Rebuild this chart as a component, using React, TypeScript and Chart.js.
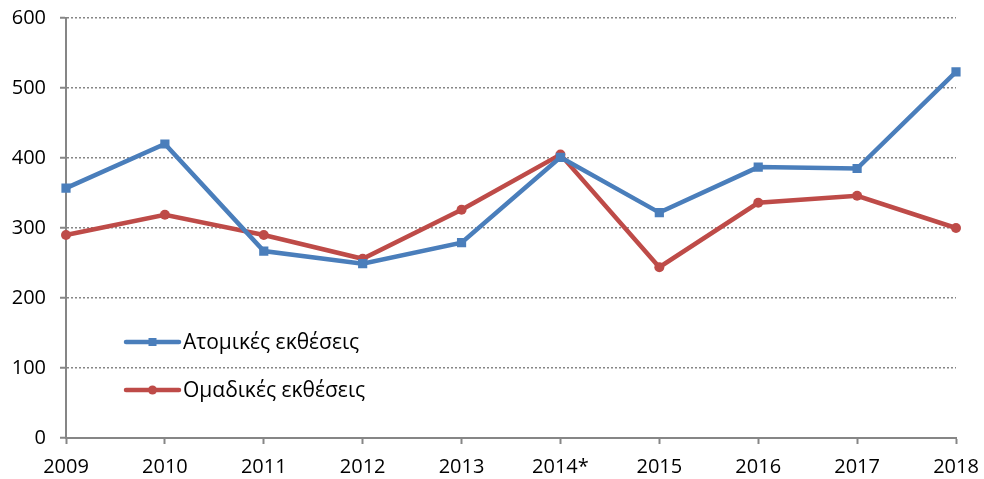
import React, { useEffect, useRef } from "react";
import { Chart, registerables } from "chart.js";

Chart.register(...registerables);

const years = ["2009", "2010", "2011", "2012", "2013", "2014*", "2015", "2016", "2017", "2018"];
const individualExhibitions = [357, 420, 267, 249, 279, 401, 322, 387, 385, 523];
const groupExhibitions = [290, 319, 290, 256, 326, 405, 244, 336, 346, 300];
const seriesLabels = ["Ατομικές εκθέσεις", "Ομαδικές εκθέσεις"];
const yTicks = [0, 100, 200, 300, 400, 500, 600];

const BLUE = "#4A7EBB";
const RED = "#BE4B48";
const AXIS = "#868686";
const FONT = "'Open Sans', sans-serif";

const legendPlugin = {
  id: "insideLegend",
  afterDraw(chart: any) {
    const ctx = chart.ctx;
    const rows = [342, 390];
    ctx.save();
    chart.data.datasets.forEach((ds: any, i: number) => {
      const y = rows[i];
      const x0 = 126;
      const x1 = 179;
      ctx.strokeStyle = ds.borderColor;
      ctx.lineWidth = 4.5;
      ctx.lineCap = "round";
      ctx.beginPath();
      ctx.moveTo(x0, y);
      ctx.lineTo(x1, y);
      ctx.stroke();
      const cx = (x0 + x1) / 2;
      ctx.fillStyle = ds.backgroundColor;
      if (ds.pointStyle === "rect") {
        ctx.fillRect(cx - 4, y - 4, 8, 8);
      } else {
        ctx.beginPath();
        ctx.arc(cx, y, 4.5, 0, Math.PI * 2);
        ctx.fill();
      }
      ctx.fillStyle = "#000";
      ctx.font = `21px ${FONT}`;
      ctx.textBaseline = "middle";
      ctx.textAlign = "left";
      ctx.fillText(ds.label, 183, y + 1);
    });
    ctx.restore();
  },
};

export default function App() {
  const ref = useRef<HTMLCanvasElement>(null);
  useEffect(() => {
    document.body.style.margin = "0";
    const chart = new Chart(ref.current!, {
      type: "line",
      data: {
        labels: years,
        datasets: [
          {
            label: seriesLabels[0],
            data: individualExhibitions,
            borderColor: BLUE,
            backgroundColor: BLUE,
            borderWidth: 4.5,
            pointStyle: "rect",
            pointRadius: 6.5,
            pointBorderWidth: 0,
            tension: 0,
          },
          {
            label: seriesLabels[1],
            data: groupExhibitions,
            borderColor: RED,
            backgroundColor: RED,
            borderWidth: 4.5,
            pointStyle: "circle",
            pointRadius: 5,
            pointBorderWidth: 0,
            tension: 0,
          },
        ],
      },
      options: {
        animation: false,
        responsive: false,
        layout: { padding: { top: 18, right: 28, left: 0, bottom: 0 } },
        plugins: { legend: { display: false }, tooltip: { enabled: false } },
        scales: {
          x: {
            offset: false,
            grid: {
              drawOnChartArea: false,
              drawTicks: true,
              tickLength: 6,
              tickColor: AXIS,
              tickWidth: 2,
            },
            border: { color: AXIS, width: 2 },
            ticks: {
              color: "#000",
              font: { family: FONT, size: 20 },
              padding: 11,
              maxRotation: 0,
              autoSkip: false,
            },
            afterFit(scale: any) {
              scale.height = 41;
              scale.paddingLeft = 0;
              scale.paddingRight = 0;
            },
          },
          y: {
            min: 0,
            max: 600,
            afterBuildTicks(scale: any) {
              scale.ticks = yTicks.map((v) => ({ value: v }));
            },
            grid: {
              color: AXIS,
              lineWidth: 1.5,
              drawTicks: true,
              tickLength: 6,
              tickColor: AXIS,
              tickWidth: 2,
              tickBorderDash: [],
            },
            border: { color: AXIS, width: 2, dash: [2, 2] },
            ticks: {
              color: "#000",
              font: { family: FONT, size: 20 },
              padding: 14,
            },
            afterFit(scale: any) {
              scale.width = 66;
              scale.paddingTop = 0;
              scale.paddingBottom = 0;
            },
          },
        },
      },
      plugins: [legendPlugin],
    });
    return () => chart.destroy();
  }, []);
  return (
    <div style={{ width: 984, height: 479 }}>
      <canvas ref={ref} width={984} height={479} style={{ display: "block" }} />
    </div>
  );
}
